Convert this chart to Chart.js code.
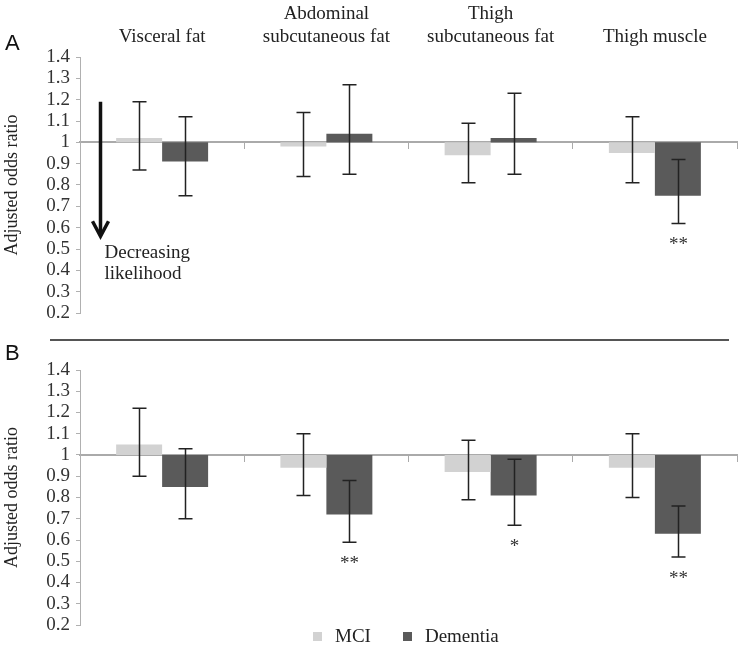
<!DOCTYPE html>
<html>
<head>
<meta charset="utf-8">
<script src="https://cdn.jsdelivr.net/npm/chart.js@4"></script>
<style>
body { margin: 0; background: #fff; }
#wrap { position: relative; width: 738px; height: 646px; }
canvas { position: absolute; left: 0; }
#chartA { top: 0; }
#chartB { top: 340px; }
#sep { position: absolute; left: 50px; top: 339px; width: 679px; height: 2px; background: #555; }
#legend { position: absolute; left: 313px; top: 627px; display: flex; align-items: center;
          font: 19px 'Liberation Serif', serif; line-height: 18px; color: #222; }
.item { display: flex; align-items: center; margin-right: 32px; }
.box { width: 9px; height: 9px; margin-right: 13px; }
</style>
</head>
<body>
<div id="wrap">
  <canvas id="chartA" width="738" height="340"></canvas>
  <canvas id="chartB" width="738" height="306"></canvas>
  <div id="sep"></div>
  <div id="legend"></div>
</div>
<script>
const regions = ['Visceral fat', ['Abdominal', 'subcutaneous fat'], ['Thigh', 'subcutaneous fat'], 'Thigh muscle'];
const seriesNames = ['MCI', 'Dementia'];
const seriesColors = ['#d2d2d2', '#5a5a5a'];

// panel A - odds ratios with 95% CI
const mciA = [1.02, 0.98, 0.94, 0.95];
const mciALow = [0.87, 0.84, 0.81, 0.81];
const mciAHigh = [1.19, 1.14, 1.09, 1.12];
const demA = [0.91, 1.04, 1.02, 0.75];
const demALow = [0.75, 0.85, 0.85, 0.62];
const demAHigh = [1.12, 1.27, 1.23, 0.92];
const mciASig = ['', '', '', ''];
const demASig = ['', '', '', '**'];

// panel B
const mciB = [1.05, 0.94, 0.92, 0.94];
const mciBLow = [0.90, 0.81, 0.79, 0.80];
const mciBHigh = [1.22, 1.10, 1.07, 1.10];
const demB = [0.85, 0.72, 0.81, 0.63];
const demBLow = [0.70, 0.59, 0.67, 0.52];
const demBHigh = [1.03, 0.88, 0.98, 0.76];
const mciBSig = ['', '', '', ''];
const demBSig = ['', '**', '*', '**'];

const yMin = 0.2, yMax = 1.4, yStep = 0.1;
const baseline = 1;

const serif = 'Liberation Serif';

// draws CI whiskers and significance stars
const errorBars = {
    id: 'errorBars',
    afterDatasetsDraw(chart) {
        const ctx = chart.ctx;
        const y = chart.scales.y;
        ctx.save();
        chart.data.datasets.forEach((ds, i) => {
            chart.getDatasetMeta(i).data.forEach((bar, j) => {
                const x = Math.round(bar.x) + 0.5;
                const top = y.getPixelForValue(ds.high[j]);
                const bot = y.getPixelForValue(ds.low[j]);
                ctx.strokeStyle = '#222';
                ctx.lineWidth = 1.5;
                ctx.beginPath();
                ctx.moveTo(x, top); ctx.lineTo(x, bot);
                ctx.moveTo(x - 7, top); ctx.lineTo(x + 7, top);
                ctx.moveTo(x - 7, bot); ctx.lineTo(x + 7, bot);
                ctx.stroke();
                if (ds.sig[j]) {
                    ctx.fillStyle = '#333';
                    ctx.font = '19px "' + serif + '"';
                    ctx.textAlign = 'center';
                    ctx.textBaseline = 'alphabetic';
                    ctx.fillText(ds.sig[j], x, bot + 27);
                }
            });
        });
        ctx.restore();
    }
};

// panel letter in top-left corner
const panelLetter = {
    id: 'panelLetter',
    afterDraw(chart, args, opts) {
        const ctx = chart.ctx;
        ctx.save();
        ctx.fillStyle = '#111';
        ctx.font = '22px "Liberation Sans"';
        ctx.textAlign = 'left';
        ctx.textBaseline = 'alphabetic';
        ctx.fillText(opts.text, 5, opts.y);
        ctx.restore();
    }
};

// "Decreasing likelihood" arrow in panel A
const arrowNote = {
    id: 'arrowNote',
    afterDatasetsDraw(chart) {
        const {ctx, chartArea, scales: {y}} = chart;
        const x = chartArea.left + 20.5;
        const y0 = y.getPixelForValue(1.19);
        const y1 = y.getPixelForValue(0.555);
        ctx.save();
        ctx.strokeStyle = '#111';
        ctx.lineWidth = 3.5;
        ctx.beginPath();
        ctx.moveTo(x, y0); ctx.lineTo(x, y1 - 2);
        ctx.stroke();
        ctx.lineJoin = 'miter';
        ctx.beginPath();
        ctx.moveTo(x - 8, y1 - 16); ctx.lineTo(x, y1 - 1); ctx.lineTo(x + 8, y1 - 16);
        ctx.stroke();
        ctx.fillStyle = '#222';
        ctx.font = '19px "' + serif + '"';
        ctx.textAlign = 'left';
        ctx.fillText('Decreasing', x + 4, y1 + 21);
        ctx.fillText('likelihood', x + 4, y1 + 42);
        ctx.restore();
    }
};

function makeDatasets(vals, lows, highs, sigs) {
    return vals.map((v, k) => ({
        label: seriesNames[k],
        data: v.map(d => [baseline, d]),
        backgroundColor: seriesColors[k],
        low: lows[k],
        high: highs[k],
        sig: sigs[k],
        categoryPercentage: 0.56,
        barPercentage: 1.0
    }));
}

function yAxis() {
    return {
        min: yMin,
        max: yMax,
        ticks: {
            stepSize: yStep,
            autoSkip: false,
            color: '#333',
            padding: 6,
            font: { family: serif, size: 19 },
            callback: v => String(+v.toFixed(1))
        },
        grid: { drawOnChartArea: false, drawTicks: true, tickLength: 4, color: '#b0b0b0' },
        border: { color: '#b0b0b0', width: 1 },
        title: {
            display: true,
            text: 'Adjusted odds ratio',
            color: '#222',
            font: { family: serif, size: 18 },
            padding: { top: 1, bottom: 0 }
        },
        afterFit(scale) { scale.width = 80; }
    };
}

function baseAxis() {
    return {
        position: { y: baseline },
        offset: true,
        ticks: { display: false },
        grid: { drawOnChartArea: false, drawTicks: true, tickLength: 6, color: '#aaa', offset: true },
        border: { color: '#aaa', width: 2 }
    };
}

const labelsIdx = regions.map((_, i) => i);

new Chart(document.getElementById('chartA'), {
    type: 'bar',
    data: {
        labels: labelsIdx,
        datasets: makeDatasets([mciA, demA], [mciALow, demALow], [mciAHigh, demAHigh], [mciASig, demASig])
    },
    options: {
        responsive: false,
        animation: false,
        layout: { padding: { left: 0, right: 1, top: 0, bottom: 27 } },
        scales: {
            x: baseAxis(),
            x2: {
                type: 'category',
                position: 'top',
                offset: true,
                labels: regions,
                grid: { display: false, drawTicks: false },
                border: { display: false },
                ticks: { color: '#222', padding: 9, maxRotation: 0, autoSkip: false, font: { family: serif, size: 19 } },
                afterFit(scale) { scale.height = 57; }
            },
            y: yAxis()
        },
        plugins: {
            legend: { display: false },
            tooltip: { enabled: false },
            panelLetter: { text: 'A', y: 50 }
        }
    },
    plugins: [errorBars, arrowNote, panelLetter]
});

new Chart(document.getElementById('chartB'), {
    type: 'bar',
    data: {
        labels: labelsIdx,
        datasets: makeDatasets([mciB, demB], [mciBLow, demBLow], [mciBHigh, demBHigh], [mciBSig, demBSig])
    },
    options: {
        responsive: false,
        animation: false,
        layout: { padding: { left: 0, right: 1, top: 30, bottom: 21 } },
        scales: {
            x: baseAxis(),
            y: yAxis()
        },
        plugins: {
            legend: { display: false },
            tooltip: { enabled: false },
            panelLetter: { text: 'B', y: 20 }
        }
    },
    plugins: [errorBars, panelLetter]
});

// legend
const legend = document.getElementById('legend');
seriesNames.forEach((name, i) => {
    const item = document.createElement('div');
    item.className = 'item';
    const box = document.createElement('span');
    box.className = 'box';
    box.style.background = seriesColors[i];
    const txt = document.createElement('span');
    txt.textContent = name;
    item.appendChild(box);
    item.appendChild(txt);
    legend.appendChild(item);
});
</script>
</body>
</html>
